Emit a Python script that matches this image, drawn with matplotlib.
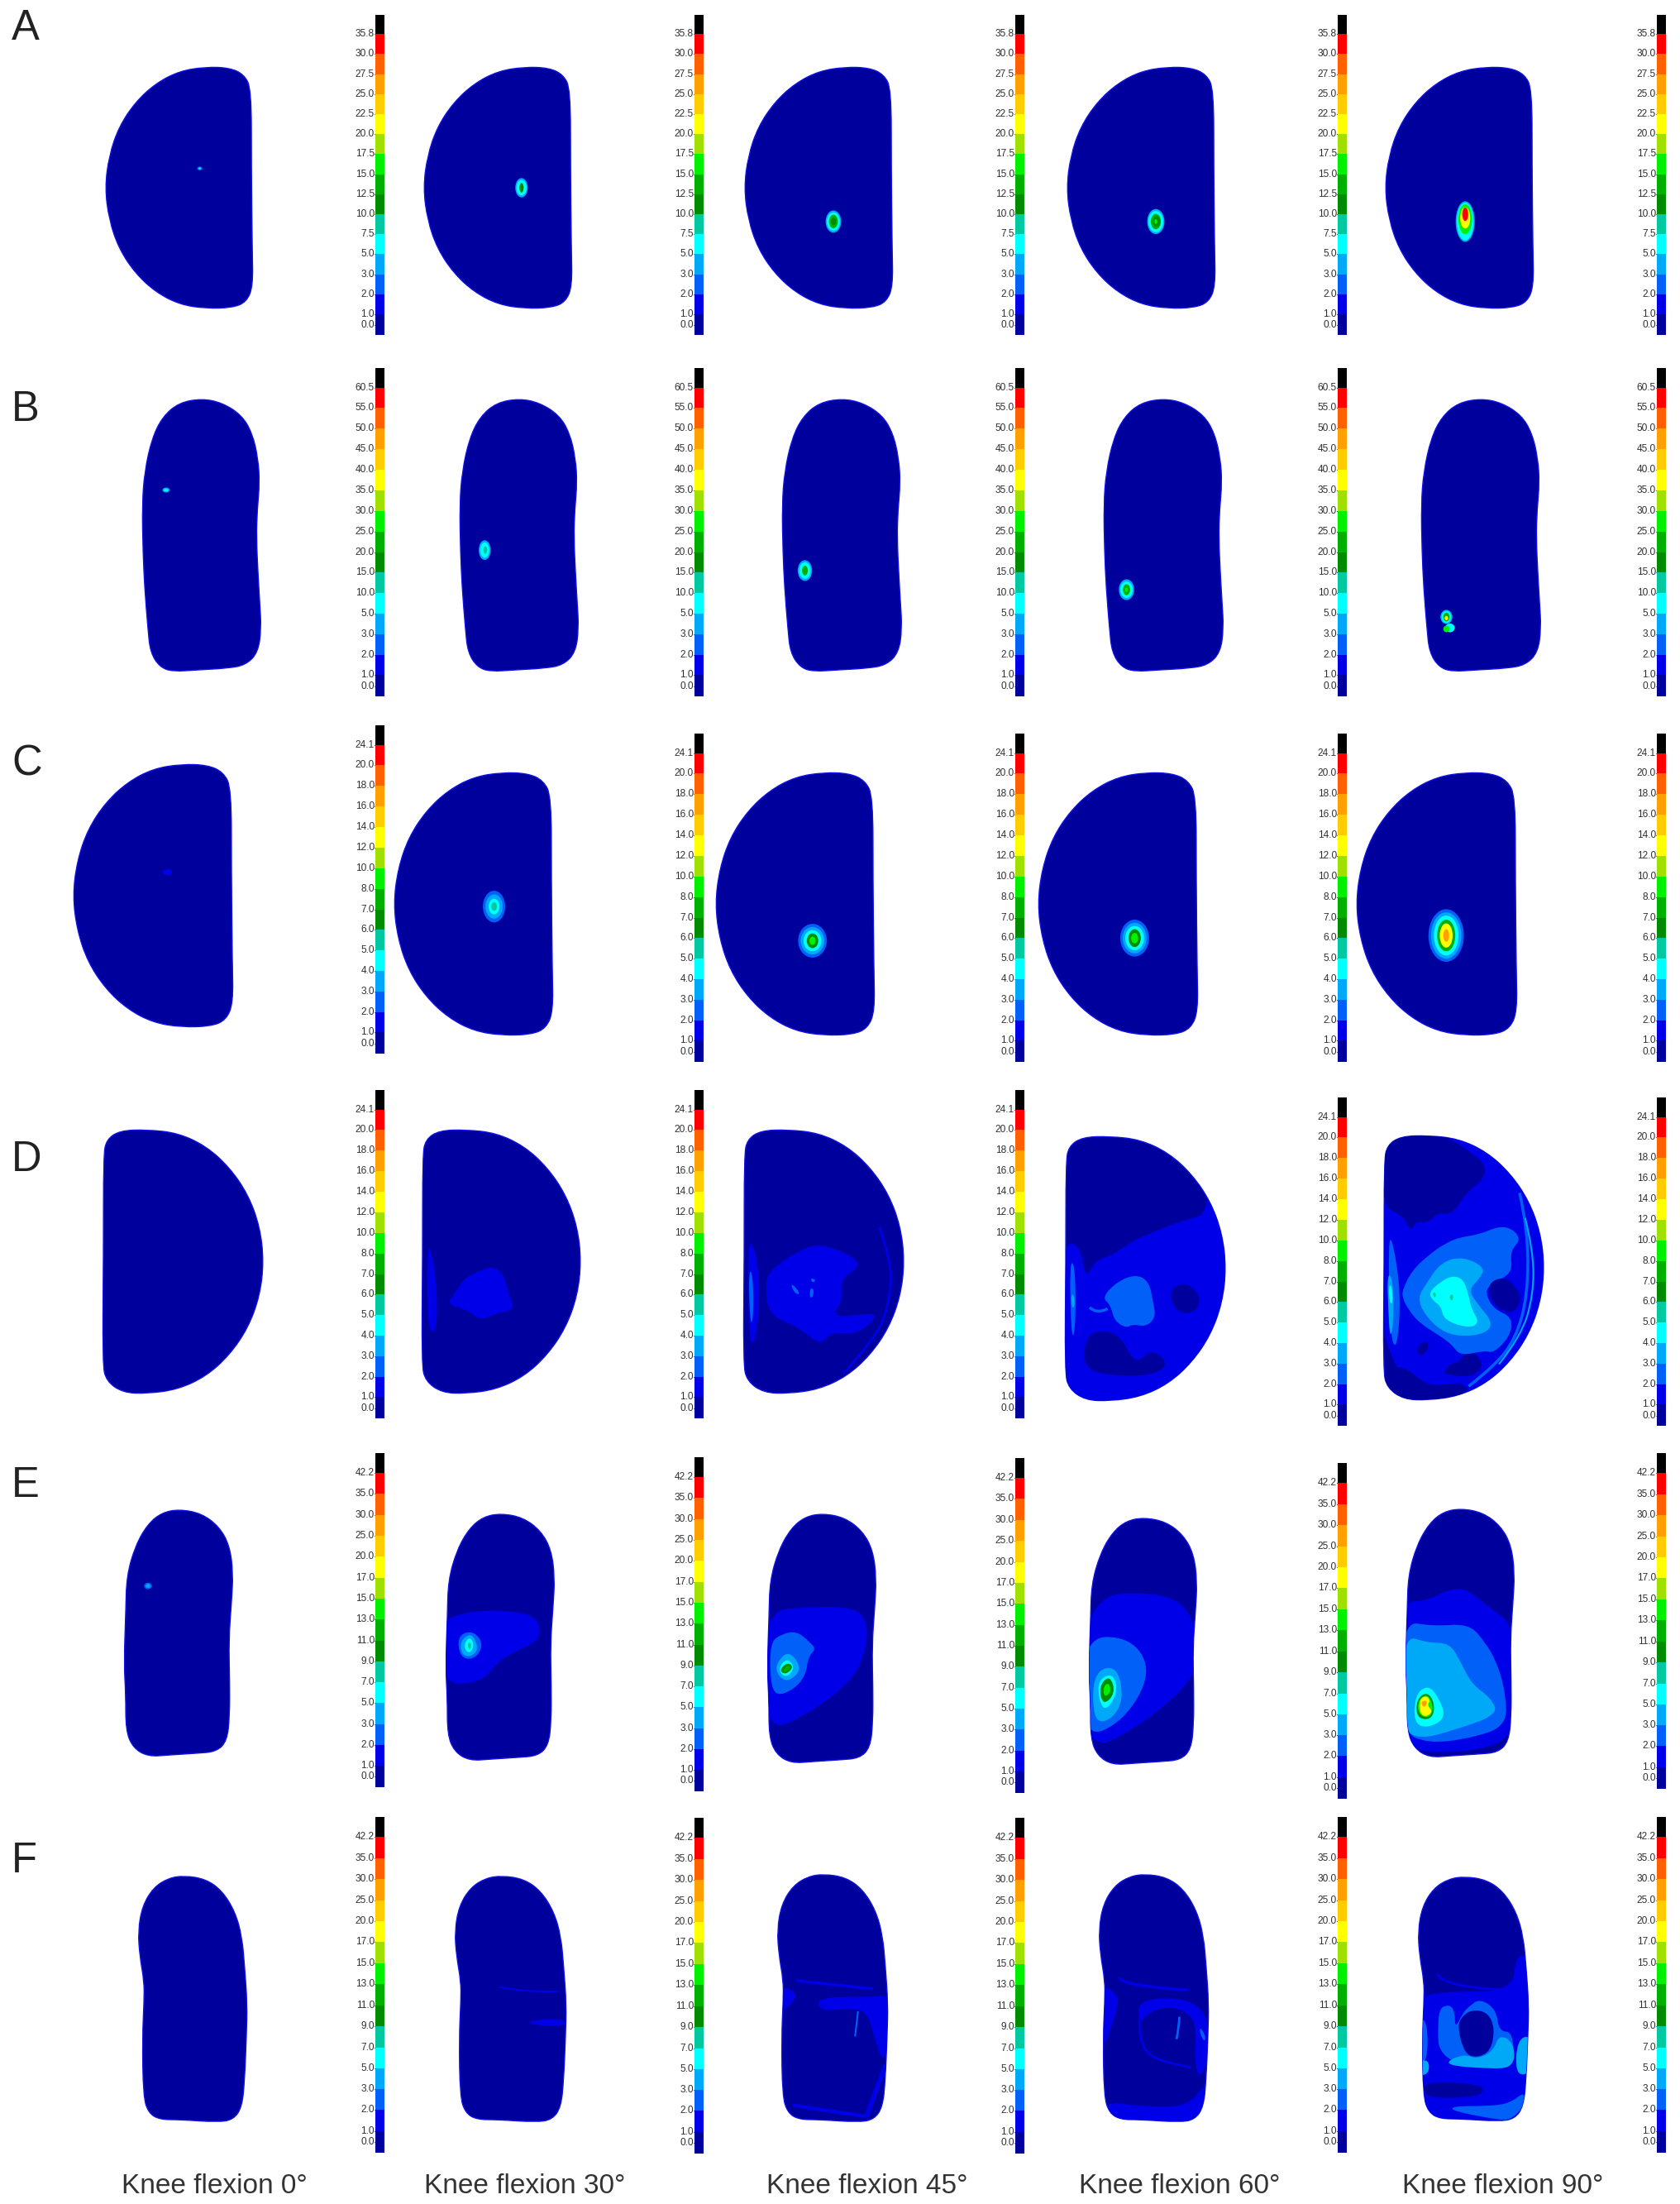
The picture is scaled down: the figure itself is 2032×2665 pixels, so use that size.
"""
Contact pressure maps of the tibial insert at five knee flexion angles (rows A-F).
"""
import matplotlib
matplotlib.use("Agg")   # headless
import matplotlib.pyplot as plt
from matplotlib.patches import Ellipse, PathPatch
from matplotlib.path import Path

plt.rcParams["font.family"] = ["Liberation Sans", "DejaVu Sans"]

FLEXION_LABELS = ["Knee flexion 0°", "Knee flexion 30°", "Knee flexion 45°", "Knee flexion 60°", "Knee flexion 90°"]
FLEXION_X = [259, 635, 1049, 1427, 1818]
ROW_LETTERS = ["A", "B", "C", "D", "E", "F"]
LETTER_BASE = [48, 509, 937, 1416, 1810, 2264]

# colour scale, bottom (level 0) to top (level 15)
LEVEL_COLORS = ["#00009c", "#0000e8", "#0060f8", "#00a8f8", "#00ffff", "#00c8a0", "#008c00", "#00b000",
                "#00f000", "#a0e000", "#ffff00", "#ffcc00", "#ffa000", "#ff6000", "#ff0000", "#000000"]
TICKS_A = ["0.0", "1.0", "2.0", "3.0", "5.0", "7.5", "10.0", "12.5", "15.0", "17.5", "20.0", "22.5", "25.0", "27.5", "30.0", "35.8"]
TICKS_B = ["0.0", "1.0", "2.0", "3.0", "5.0", "10.0", "15.0", "20.0", "25.0", "30.0", "35.0", "40.0", "45.0", "50.0", "55.0", "60.5"]
TICKS_CD = ["0.0", "1.0", "2.0", "3.0", "4.0", "5.0", "6.0", "7.0", "8.0", "10.0", "12.0", "14.0", "16.0", "18.0", "20.0", "24.1"]
TICKS_EF = ["0.0", "1.0", "2.0", "3.0", "5.0", "7.0", "9.0", "11.0", "13.0", "15.0", "17.0", "20.0", "25.0", "30.0", "35.0", "42.2"]
ROW_TICKS = [TICKS_A, TICKS_B, TICKS_CD, TICKS_CD, TICKS_EF, TICKS_EF]

BAR_X = [459, 845, 1233, 1623, 2009]
# (top, bottom) of every colour bar, row by row
BAR_SPANS = [
    [(18, 405)] * 5,
    [(445, 842)] * 5,
    [(877, 1274), (887, 1284), (887, 1284), (887, 1284), (887, 1284)],
    [(1318, 1715), (1318, 1715), (1318, 1715), (1327, 1724), (1327, 1724)],
    [(1757, 2161), (1762, 2166), (1763, 2168), (1769, 2175), (1757, 2163)],
    [(2197, 2603), (2198, 2604), (2198, 2604), (2197, 2603), (2197, 2603)],
]
# level boundary positions as a share of the bar, top to bottom (16 labels)
TICK_SHARES = [0.060, 0.122, 0.185, 0.248, 0.310, 0.373, 0.435, 0.498,
               0.561, 0.623, 0.686, 0.748, 0.811, 0.873, 0.935, 0.969]

OUTLINE_A = [(122, -1), (151, 0), (169, 8), (178, 26), (178, 119), (179, 219), (180, 266), (172, 285), (155, 292),
             (122, 293), (90, 288), (61, 273), (36, 250), (16, 220), (4, 185), (-1, 146), (4, 107), (16, 72),
             (36, 42), (61, 19), (90, 4)]
OUTLINE_B = [(72, 0), (97, 5), (121, 20), (134, 42), (141, 72), (143, 102), (140, 135), (139, 168), (141, 212),
             (143, 245), (145, 278), (141, 307), (126, 322), (104, 326), (67, 328), (37, 330), (21, 325), (9, 307),
             (6, 278), (2, 228), (0, 185), (-1, 128), (2, 88), (11, 48), (24, 22), (44, 5)]
OUTLINE_D = [(45, -1), (17, 0), (3, 11), (0, 31), (0, 151), (-1, 284), (3, 305), (20, 319), (45, 320), (76, 315),
             (105, 299), (129, 273), (148, 240), (160, 201), (164, 159), (160, 117), (148, 78), (129, 45), (105, 19),
             (76, 3)]
OUTLINE_E = [(63, 0), (88, 5), (108, 21), (120, 44), (124, 78), (122, 114), (119, 158), (120, 208), (120, 251),
             (117, 281), (105, 294), (82, 296), (52, 298), (27, 300), (10, 289), (2, 268), (2, 224), (0, 188),
             (2, 124), (3, 81), (13, 44), (27, 18), (43, 4)]
OUTLINE_F = [(53, 0), (78, 4), (97, 18), (112, 43), (120, 73), (123, 109), (126, 153), (125, 193), (123, 243),
             (120, 276), (110, 291), (92, 294), (48, 291), (25, 291), (12, 283), (6, 263), (5, 193), (7, 149),
             (7, 126), (2, 96), (0, 66), (5, 36), (18, 14), (35, 3)]
ROW_OUTLINES = [OUTLINE_A, OUTLINE_B, OUTLINE_A, OUTLINE_D, OUTLINE_E, OUTLINE_F]

# shape extents (left, right, top, bottom) on the page
ROW_BOXES = [
    [(127, 306, 81, 373), (512, 692, 81, 373), (900, 1080, 81, 373), (1290, 1470, 81, 373), (1675, 1855, 81, 373)],
    [(172, 316, 482, 812), (556, 700, 482, 812), (946, 1091, 482, 812), (1335, 1480, 482, 812), (1719, 1864, 482, 812)],
    [(88, 282, 924, 1242), (476, 669, 934, 1252), (865, 1058, 934, 1252), (1255, 1449, 934, 1252), (1640, 1835, 934, 1252)],
    [(124, 319, 1366, 1685), (510, 703, 1366, 1685), (899, 1094, 1366, 1685), (1288, 1483, 1374, 1694), (1673, 1868, 1373, 1693)],
    [(150, 282, 1825, 2124), (539, 671, 1830, 2129), (928, 1060, 1830, 2132), (1317, 1448, 1835, 2134), (1700, 1832, 1824, 2125)],
    [(167, 299, 2268, 2566), (550, 685, 2268, 2566), (940, 1074, 2266, 2566), (1329, 1462, 2266, 2566), (1715, 1849, 2269, 2565)],
]

# hot spots: (level, centre u %, centre v %, radius u %, radius v %) in the shape's box
SPOTS = {
    (0, 0): [(2, 64, 42, 1.8, 0.8), (4, 64, 42, 0.8, 0.4)],
    (0, 1): [(3, 66, 50, 4.2, 4.0), (4, 66, 50, 3.4, 3.2), (6, 66, 50, 1.4, 2.0)],
    (0, 2): [(3, 60, 64, 5.2, 4.6), (4, 60, 64, 4.4, 3.8), (7, 60, 64, 3.0, 2.8), (6, 60, 64, 1.8, 1.6)],
    (0, 3): [(3, 60, 64, 5.8, 5.2), (4, 60, 64, 5.0, 4.4), (7, 60, 64, 3.4, 3.2), (6, 60.5, 64, 2.2, 2.2), (8, 60, 64, 1.0, 1.0)],
    (0, 4): [(3, 54, 64, 6.4, 8.4), (4, 54, 64, 5.6, 7.8), (8, 54, 63, 4.6, 6.2), (10, 54, 62.5, 3.4, 4.4), (14, 54, 61, 2.0, 2.8)],
    (1, 0): [(3, 20, 33.5, 3.0, 0.9), (4, 20, 33.5, 1.8, 0.5)],
    (1, 1): [(3, 21, 55.5, 5.0, 3.6), (4, 21, 55.5, 3.8, 2.8), (5, 21.5, 55.5, 1.6, 1.4)],
    (1, 2): [(3, 19, 63, 6.0, 3.8), (4, 19, 63, 4.8, 3.0), (7, 19, 63, 2.4, 1.8)],
    (1, 3): [(3, 19, 70, 6.4, 3.8), (4, 19, 70, 5.2, 3.0), (7, 19, 70, 3.0, 2.0), (8, 19, 70, 1.2, 0.8)],
    (1, 4): [(3, 21, 80, 5.0, 2.6), (4, 21, 80, 4.0, 2.2), (7, 21, 80, 2.6, 1.6), (10, 21, 80.4, 1.4, 0.8),
             (4, 24, 84, 4.0, 1.6), (8, 21, 84.4, 2.6, 1.2)],
    (2, 0): [(1, 59, 41, 3.0, 1.2)],
    (2, 1): [(2, 63, 51, 7.0, 6.0), (3, 63, 51, 5.4, 4.6), (4, 63, 51, 3.4, 3.0), (5, 63, 51, 1.8, 1.6)],
    (2, 2): [(2, 61, 64, 9.0, 6.4), (3, 61, 64, 7.4, 5.2), (4, 61, 64, 5.6, 4.0), (6, 61, 64, 3.6, 2.8), (8, 61, 64, 2.0, 1.6)],
    (2, 3): [(2, 60.5, 63, 9.0, 7.0), (3, 60.5, 63, 7.4, 5.8), (4, 60.5, 63, 5.8, 4.6), (6, 60.5, 63, 3.8, 3.4), (8, 60.5, 63, 2.2, 2.0)],
    (2, 4): [(2, 56, 62, 11.0, 10.0), (3, 56, 62, 9.4, 8.8), (4, 56, 62, 7.6, 7.6), (7, 56, 62, 5.6, 6.0),
             (10, 56, 62, 4.0, 4.6), (12, 56, 62, 1.8, 2.4)],
    (4, 0): [(2, 22, 31, 3.6, 1.3), (3, 22, 31, 2.0, 0.8)],
}

FRAME_D2 = (48, 540, 47, 1003)
LAYERS_D2 = [
    (1, [(150, 640), (180, 585), (215, 565), (265, 540), (300, 570), (315, 640), (335, 700), (280, 710),
         (230, 740), (190, 700), (125, 680)]),
    (1, [(65, 480), (78, 480), (95, 620), (95, 760), (78, 790), (65, 720)]),
]
FRAME_D3 = (1033, 1527, 47, 1003)
LAYERS_D3 = [
    (1, [(1120, 550), (1210, 480), (1270, 460), (1360, 500), (1395, 540), (1330, 590), (1340, 660), (1300, 730),
         (1430, 710), (1440, 730), (1380, 790), (1300, 780), (1270, 830), (1200, 760), (1110, 720), (1100, 600)]),
    (1, [(1045, 430), (1075, 500), (1085, 650), (1070, 820), (1050, 820)]),
    (2, [(1050, 555), (1062, 570), (1065, 700), (1058, 760), (1052, 700)]),
    (2, [(1178, 605), (1192, 615), (1208, 645), (1190, 640)]),
    (2, [(1240, 585), (1255, 590), (1250, 600), (1242, 598)]),
    (2, [(1238, 620), (1250, 625), (1246, 655), (1236, 655)]),
]
LINES_D3 = [(1, 2.0, [(1450, 400), (1490, 530), (1480, 680), (1440, 800), (1340, 930)])]

FRAME_D4 = (55, 640, 42, 998)
LAYERS_D4 = [
    (1, [(40, 430), (110, 430), (130, 560), (165, 490), (230, 470), (300, 420), (370, 390), (420, 370), (490, 345),
         (530, 335), (560, 320), (585, 230), (660, 430), (660, 700), (540, 900), (400, 1010), (200, 1020),
         (40, 1000)]),
    (0, [(130, 760), (200, 740), (260, 770), (290, 830), (320, 860), (370, 810), (430, 860), (390, 900),
         (280, 910), (120, 890)]),
    (0, [(430, 600), (490, 565), (550, 620), (530, 680), (460, 680)]),
    (2, [(190, 625), (240, 570), (310, 540), (360, 565), (375, 640), (385, 695), (350, 730), (300, 720),
         (280, 735), (235, 710), (220, 650)]),
    (2, [(72, 500), (90, 500), (95, 640), (90, 760), (78, 760)]),
    (3, [(78, 610), (90, 620), (90, 660), (80, 660)]),
]
LINES_D4 = [(2, 2.5, [(145, 660), (170, 685), (210, 665)])]

FRAME_D5 = (220, 805, 222, 1180)
LAYERS_D5 = [
    (1, [(200, 200), (830, 200), (830, 1200), (200, 1200)]),
    (0, [(215, 215), (300, 215), (440, 215), (560, 300), (590, 330), (585, 380), (520, 430), (470, 510), (420, 500),
         (380, 540), (340, 530), (320, 570), (290, 510), (215, 480)]),
    (0, [(215, 1080), (290, 1050), (380, 1130), (460, 1120), (520, 1120), (525, 1160), (430, 1190), (300, 1190), (215, 1140)]),
    (0, [(340, 990), (380, 960), (385, 1000), (350, 1025)]),
    (0, [(440, 1080), (460, 1050), (500, 1040), (530, 990), (590, 1050), (540, 1100), (440, 1085)]),
    (2, [(290, 780), (325, 710), (390, 650), (450, 610), (500, 590), (570, 580), (640, 550), (690, 560), (720, 600),
         (680, 640), (690, 720), (610, 760), (590, 790), (620, 850), (690, 880), (680, 950), (620, 1010), (590, 1000),
         (500, 1020), (470, 980), (430, 950), (350, 900), (310, 850), (290, 810)]),
    (0, [(595, 760), (660, 730), (710, 780), (720, 820), (690, 870), (620, 840)]),
    (3, [(345, 810), (375, 760), (430, 680), (510, 660), (590, 700), (570, 740), (530, 780), (560, 830), (620, 900),
         (590, 940), (500, 950), (430, 930), (370, 870)]),
    (4, [(385, 790), (430, 750), (470, 730), (510, 740), (530, 800), (540, 850), (570, 900), (530, 920), (440, 890),
         (430, 840), (400, 820)]),
    (5, [(400, 790), (410, 790), (412, 808), (402, 806)]),
    (5, [(462, 798), (475, 798), (472, 820), (462, 816)]),
    (2, [(238, 600), (255, 600), (285, 800), (270, 1000), (245, 950)]),
    (3, [(235, 720), (255, 740), (258, 900), (245, 960), (238, 850)]),
    (4, [(240, 760), (252, 770), (255, 830), (243, 830)]),
]
LINES_D5 = [(2, 2.5, [(715, 430), (745, 560), (745, 800), (700, 960), (620, 1060), (530, 1130)]),
            (3, 1.5, [(735, 520), (765, 640), (765, 800), (720, 950), (640, 1050)])]

FRAME_E2 = (45, 420, 27, 925)
LAYERS_E2 = [
    (1, [(30, 420), (100, 390), (170, 380), (250, 380), (340, 395), (370, 430), (365, 490), (280, 530), (220, 570),
         (170, 640), (30, 650)]),
    (2, [(85, 475), (130, 452), (165, 480), (170, 520), (140, 558), (95, 550)]),
    (3, [(95, 490), (130, 462), (150, 490), (155, 525), (130, 548), (100, 540)]),
    (4, [(110, 495), (130, 475), (143, 505), (130, 535), (112, 525)]),
    (5, [(122, 495), (133, 497), (131, 522), (122, 518)]),
]
FRAME_E3 = (1140, 1510, 27, 925)
LAYERS_E3 = [
    (1, [(1125, 380), (1280, 362), (1440, 365), (1480, 420), (1475, 520), (1430, 625), (1300, 735), (1125, 825)]),
    (2, [(1150, 490), (1190, 460), (1240, 450), (1285, 490), (1305, 515), (1280, 540), (1270, 610), (1230, 660),
         (1170, 685), (1150, 630)]),
    (3, [(1165, 590), (1185, 545), (1215, 525), (1250, 570), (1245, 605), (1200, 635)]),
    (4, [(1175, 590), (1205, 545), (1235, 580), (1205, 620)]),
    (6, [(1180, 592), (1207, 562), (1230, 578), (1203, 607)]),
    (7, [(1192, 590), (1210, 572), (1222, 580), (1200, 600)]),
]
FRAME_E4 = (775, 852, 1080, 1256)
LAYERS_E4 = [
    (1, [(770, 1135), (830, 1133), (850, 1150), (856, 1190), (810, 1230), (770, 1248)]),
    (2, [(770, 1165), (805, 1165), (820, 1190), (800, 1225), (770, 1238)]),
    (3, [(778, 1190), (795, 1185), (800, 1210), (790, 1225), (778, 1225)]),
    (4, [(780, 1197), (792, 1190), (796, 1205), (785, 1220)]),
    (6, [(782, 1200), (790, 1192), (794, 1205), (785, 1214)]),
    (8, [(785, 1201), (789, 1197), (791, 1204), (786, 1208)]),
]
FRAME_E5 = (300, 695, 193, 1095)
LAYERS_E5 = [
    (1, [(285, 530), (370, 530), (470, 480), (530, 490), (600, 550), (700, 620), (700, 1000), (600, 1065), (400, 1080),
         (320, 1060), (285, 1000)]),
    (2, [(285, 600), (400, 620), (530, 610), (590, 680), (630, 750), (660, 850), (668, 980), (540, 1025), (380, 1045),
         (285, 1000)]),
    (3, [(290, 650), (380, 680), (460, 680), (500, 750), (540, 830), (610, 880), (635, 940), (480, 995), (350, 1030),
         (290, 990)]),
    (4, [(335, 870), (375, 835), (410, 860), (450, 950), (380, 990), (330, 970)]),
    (6, [(340, 885), (375, 858), (400, 885), (405, 930), (385, 960), (340, 950)]),
    (8, [(345, 890), (375, 865), (395, 890), (400, 930), (378, 955), (345, 935)]),
    (10, [(350, 885), (375, 870), (390, 890), (378, 905), (400, 930), (370, 950), (350, 930)]),
    (12, [(358, 890), (380, 890), (372, 912), (360, 910)]),
]
FRAME_F2 = (324, 403, 1335, 1510)
LAYERS_F2 = [(1, [(376, 1438), (400, 1436), (404, 1442), (378, 1441)])]
LINES_F2 = [(1, 1.5, [(355, 1414), (375, 1418), (398, 1417)])]

FRAME_F3 = (55, 432, 22, 905)
LAYERS_F3 = [
    (1, [(60, 420), (120, 440), (110, 480), (60, 520)]),
    (1, [(190, 460), (380, 460), (440, 450), (440, 600), (415, 700), (385, 600), (360, 510), (300, 500), (200, 510)]),
]
LINES_F3 = [(1, 2.5, [(120, 400), (175, 410), (380, 430)]),
            (1, 3.0, [(110, 845), (200, 860), (360, 885)]),
            (1, 4.0, [(425, 700), (390, 790), (360, 885)]),
            (2, 1.5, [(330, 510), (325, 560), (320, 600)])]
FRAME_F4 = (1145, 1520, 22, 905)
LAYERS_F4 = [
    (1, [(1150, 410), (1210, 450), (1210, 500), (1150, 680)]),
    (1, [(1280, 460), (1500, 470), (1530, 640), (1490, 760), (1470, 680), (1480, 540), (1400, 490), (1320, 510), (1280, 560)]),
    (1, [(1160, 830), (1300, 850), (1450, 850), (1510, 760), (1510, 850), (1450, 915), (1190, 915)]),
    (2, [(1490, 565), (1510, 600), (1505, 620), (1490, 590)]),
]
LINES_F4 = [(1, 2.5, [(1215, 390), (1220, 420), (1450, 435)]),
            (1, 2.0, [(1285, 530), (1280, 620), (1340, 690), (1460, 710)]),
            (2, 2.0, [(1420, 530), (1418, 570), (1410, 610)])]
FRAME_F5 = (345, 748, 208, 1095)
LAYERS_F5 = [
    (1, [(340, 650), (420, 625), (690, 625), (700, 490), (760, 500), (760, 1010), (700, 1100), (640, 1110), (420, 1100),
         (340, 1010)]),
    (2, [(530, 680), (570, 650), (630, 690), (640, 770), (690, 770), (695, 890), (420, 890), (415, 690), (460, 670),
         (480, 700), (480, 760), (510, 700)]),
    (0, [(500, 720), (540, 690), (600, 700), (625, 760), (610, 840), (560, 865), (515, 850), (490, 760)]),
    (1, [(640, 700), (670, 670), (700, 700), (700, 770), (650, 770)]),
    (3, [(620, 840), (640, 780), (695, 810), (695, 900), (600, 905), (430, 890), (510, 850), (560, 870)]),
    (3, [(705, 800), (760, 780), (760, 920), (700, 930)]),
    (2, [(340, 720), (380, 730), (380, 880), (340, 880)]),
    (3, [(340, 880), (385, 870), (385, 925), (340, 930)]),
    (0, [(360, 950), (570, 960), (590, 990), (530, 1010), (370, 1010)]),
    (2, [(470, 1040), (600, 1040), (680, 1030), (735, 985), (730, 1045), (680, 1090), (640, 1090), (470, 1058)]),
]
LINES_F5 = [(1, 2.0, [(415, 560), (430, 610), (690, 620)]),
            (1, 2.5, [(415, 690), (405, 880), (440, 895)])]

PANEL_FRAMES = {(3, 1): FRAME_D2, (3, 2): FRAME_D3, (3, 3): FRAME_D4, (3, 4): FRAME_D5,
                (4, 1): FRAME_E2, (4, 2): FRAME_E3, (4, 3): FRAME_E4, (4, 4): FRAME_E5,
                (5, 1): FRAME_F2, (5, 2): FRAME_F3, (5, 3): FRAME_F4, (5, 4): FRAME_F5}
PANEL_LAYERS = {(3, 1): LAYERS_D2, (3, 2): LAYERS_D3, (3, 3): LAYERS_D4, (3, 4): LAYERS_D5,
                (4, 1): LAYERS_E2, (4, 2): LAYERS_E3, (4, 3): LAYERS_E4, (4, 4): LAYERS_E5,
                (5, 1): LAYERS_F2, (5, 2): LAYERS_F3, (5, 3): LAYERS_F4, (5, 4): LAYERS_F5}
PANEL_LINES = {(3, 2): LINES_D3, (3, 3): LINES_D4, (3, 4): LINES_D5, (5, 1): LINES_F2,
               (5, 2): LINES_F3, (5, 3): LINES_F4, (5, 4): LINES_F5}


def _closed_path(pts):
    # quadratic spline: read points are control points, midpoints sit on the curve
    mids = [((pts[i][0] + pts[(i + 1) % len(pts)][0]) / 2, (pts[i][1] + pts[(i + 1) % len(pts)][1]) / 2)
            for i in range(len(pts))]
    verts, codes = [mids[-1]], [Path.MOVETO]
    for p, m in zip(pts, mids):
        verts += [p, m]
        codes += [Path.CURVE3, Path.CURVE3]
    return Path(verts, codes)


def _open_path(pts):
    verts, codes = [pts[0]], [Path.MOVETO]
    for i in range(1, len(pts) - 1):
        end = pts[i + 1] if i == len(pts) - 2 else ((pts[i][0] + pts[i + 1][0]) / 2, (pts[i][1] + pts[i + 1][1]) / 2)
        verts += [pts[i], end]
        codes += [Path.CURVE3, Path.CURVE3]
    if len(pts) == 2:
        verts.append(pts[1])
        codes.append(Path.LINETO)
    return Path(verts, codes)


def _mapper(frame, box):
    fx0, fx1, fy0, fy1 = frame
    x0, x1, y0, y1 = box
    return lambda p: (x0 + (p[0] - fx0) / (fx1 - fx0) * (x1 - x0), y0 + (p[1] - fy0) / (fy1 - fy0) * (y1 - y0))


def draw_panel(ax, row, col):
    outline = ROW_OUTLINES[row]
    box = ROW_BOXES[row][col]
    xs, ys = zip(*outline)
    to_page = _mapper((min(xs), max(xs), min(ys), max(ys)), box)
    base = PathPatch(_closed_path([to_page(p) for p in outline]), facecolor=LEVEL_COLORS[0],
                     edgecolor="#1010e8", linewidth=1.0, zorder=2)
    ax.add_patch(base)

    to_box = _mapper(PANEL_FRAMES.get((row, col), (0, 100, 0, 100)), box)
    for level, pts in PANEL_LAYERS.get((row, col), []):
        patch = PathPatch(_closed_path([to_box(p) for p in pts]), facecolor=LEVEL_COLORS[level],
                          edgecolor="none", zorder=3)
        ax.add_patch(patch)
        patch.set_clip_path(base)
    for level, lw, pts in PANEL_LINES.get((row, col), []):
        patch = PathPatch(_open_path([to_box(p) for p in pts]), facecolor="none",
                          edgecolor=LEVEL_COLORS[level], linewidth=lw, zorder=3)
        ax.add_patch(patch)
        patch.set_clip_path(base)
    w, h = box[1] - box[0], box[3] - box[2]
    for level, cu, cv, ru, rv in SPOTS.get((row, col), []):
        ax.add_patch(Ellipse((box[0] + cu / 100 * w, box[2] + cv / 100 * h), 2 * ru / 100 * w, 2 * rv / 100 * h,
                             facecolor=LEVEL_COLORS[level], edgecolor="none", zorder=3))


def draw_bar(ax, x, span, labels):
    top, bottom = span
    height = bottom - top
    # colours run black at the top, navy at the bottom; the 1.0 and 0.0 ticks share the navy cell
    cells = [top] + [top + s * height for s in TICK_SHARES[:15]] + [bottom]
    for i in range(16):
        ax.bar(x, cells[i + 1] - cells[i], bottom=cells[i], width=11, color=LEVEL_COLORS[15 - i], zorder=2)
    for share, label in zip(TICK_SHARES, reversed(labels)):
        y = top + share * height
        ax.text(x - 6, y, label, ha="right", va="center", fontsize=8.6, color="#303030")
        ax.plot([x - 6, x - 2], [y, y], color="#707070", linewidth=0.7, zorder=1)


def main():
    fig = plt.figure(figsize=(20.32, 26.65), dpi=100, facecolor="white")
    ax = fig.add_axes([0, 0, 1, 1])
    ax.set_xlim(0, 2032)
    ax.set_ylim(2665, 0)
    ax.axis("off")

    for row in range(6):
        for col in range(5):
            draw_panel(ax, row, col)
            draw_bar(ax, BAR_X[col], BAR_SPANS[row][col], ROW_TICKS[row])
        ax.text(14, LETTER_BASE[row], ROW_LETTERS[row], fontsize=36.5, color="#222222", va="baseline", ha="left")
    for x, label in zip(FLEXION_X, FLEXION_LABELS):
        ax.text(x, 2652, label, fontsize=24, color="#333333", ha="center", va="baseline")

    fig.savefig("out.png", dpi=100)
    plt.close(fig)


if __name__ == "__main__":
    main()
